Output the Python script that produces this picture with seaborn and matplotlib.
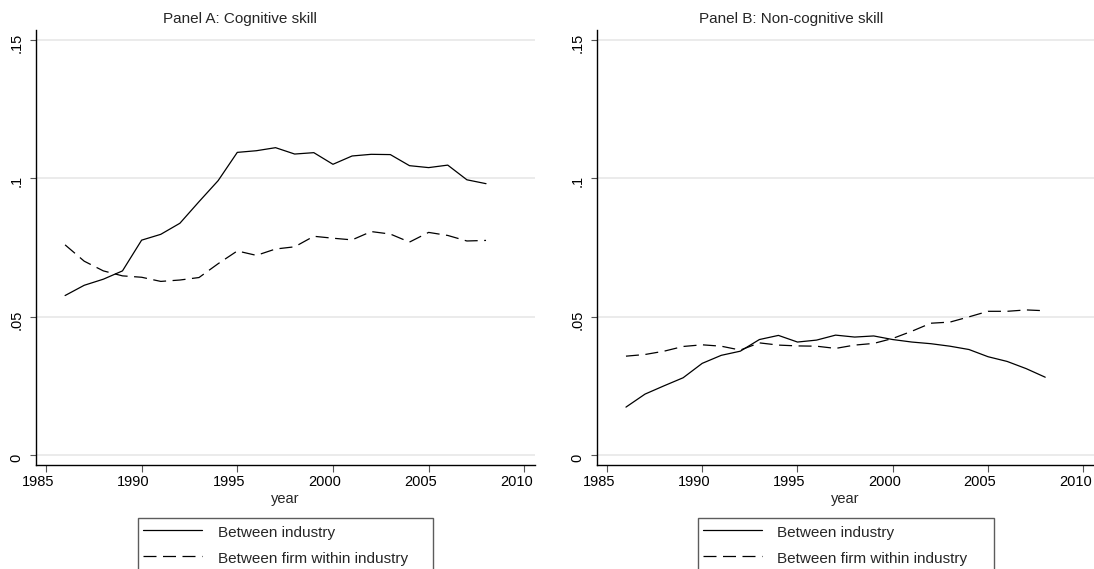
import matplotlib
matplotlib.use("Agg")
import matplotlib.pyplot as plt
from matplotlib.transforms import ScaledTranslation
import numpy as np
import pandas as pd
import seaborn as sns

# ---- data -------------------------------------------------------------
years = [1986, 1987, 1988, 1989, 1990, 1991, 1992, 1993, 1994, 1995, 1996, 1997,
         1998, 1999, 2000, 2001, 2002, 2003, 2004, 2005, 2006, 2007, 2008]

cog_between_industry = [0.0577, 0.0614, 0.0636, 0.0666, 0.0777, 0.0798, 0.0838, 0.0916,
                        0.0992, 0.1094, 0.1100, 0.1111, 0.1088, 0.1093, 0.1051, 0.1081,
                        0.1087, 0.1086, 0.1046, 0.1039, 0.1048, 0.0995, 0.0981]
cog_within_industry = [0.0760, 0.0701, 0.0666, 0.0648, 0.0643, 0.0628, 0.0633, 0.0642,
                       0.0692, 0.0738, 0.0722, 0.0745, 0.0753, 0.0791, 0.0784, 0.0778,
                       0.0808, 0.0799, 0.0770, 0.0805, 0.0794, 0.0774, 0.0776]

noncog_between_industry = [0.0174, 0.0221, 0.0251, 0.0280, 0.0332, 0.0361, 0.0376, 0.0418,
                           0.0433, 0.0409, 0.0416, 0.0434, 0.0427, 0.0431, 0.0418, 0.0409,
                           0.0403, 0.0394, 0.0382, 0.0356, 0.0339, 0.0313, 0.0282]
noncog_within_industry = [0.0358, 0.0364, 0.0376, 0.0393, 0.0399, 0.0394, 0.0380, 0.0406,
                          0.0398, 0.0395, 0.0394, 0.0386, 0.0398, 0.0404, 0.0422, 0.0448,
                          0.0477, 0.0481, 0.0500, 0.0520, 0.0520, 0.0525, 0.0522]

series_names = ["Between industry", "Between firm within industry"]
panel_titles = ["Panel A: Cognitive skill", "Panel B: Non-cognitive skill"]

x_ticks = [1985, 1990, 1995, 2000, 2005, 2010]
y_ticks = [0.0, 0.05, 0.10, 0.15]
y_tick_labels = ["0", ".05", ".1", ".15"]

# ---- long-form frames -------------------------------------------------
def long_frame(between, within):
    return pd.DataFrame({
        "year": years * 2,
        "share": between + within,
        "component": [series_names[0]] * len(years) + [series_names[1]] * len(years),
    })

frames = [long_frame(cog_between_industry, cog_within_industry),
          long_frame(noncog_between_industry, noncog_within_industry)]

# ---- style ------------------------------------------------------------
sns.set_style("white")
plt.rcParams["font.family"] = ["Liberation Sans", "DejaVu Sans"]

W, H = 1094, 569
DPI = 100
fig = plt.figure(figsize=(W / DPI, H / DPI), dpi=DPI)

# axes boxes in pixels: (left, right)
panel_px = [(36, 535), (597, 1094)]
ax_top_px, ax_bottom_px = 30, 464.7
title_center_px = [240, 791]
legend_px = [(138.3, 295), (697.5, 296)]
legend_top_px = 518.3

dash_style = {series_names[0]: "", series_names[1]: (10.4, 5.2)}

axes = []
for i, df in enumerate(frames):
    left, right = panel_px[i]
    ax = fig.add_axes([left / W, 1 - ax_bottom_px / H,
                       (right - left) / W, (ax_bottom_px - ax_top_px) / H])
    axes.append(ax)
    sns.lineplot(data=df, x="year", y="share", style="component",
                 dashes=dash_style, color="black", linewidth=0.9,
                 legend=False, ax=ax)

    ax.set_xlim(1984.48, 2010.56)
    ax.set_ylim(-0.0034, 0.1536)
    ax.set_xticks(x_ticks)
    ax.set_xticklabels([str(t) for t in x_ticks])
    ax.set_yticks(y_ticks)
    ax.set_yticklabels(y_tick_labels)

    ax.yaxis.grid(True, color="#e6e6e6", linewidth=1.1)
    ax.xaxis.grid(False)
    ax.set_axisbelow(True)

    for side in ("top", "right"):
        ax.spines[side].set_visible(False)
    for side in ("left", "bottom"):
        ax.spines[side].set_color("black")
        ax.spines[side].set_linewidth(1.0)

    ax.tick_params(axis="both", which="major", direction="out", bottom=True,
                   left=True, width=0.8, color="#555555", labelsize=10.5,
                   labelcolor="black")
    ax.tick_params(axis="x", length=5, pad=2.5)
    ax.tick_params(axis="y", length=4.5, pad=4.5, labelrotation=90)

    ax.set_xlabel("year", fontsize=10.5, labelpad=2)
    ax.set_ylabel("")

    ax.set_title(panel_titles[i], fontsize=11,
                 x=(title_center_px[i] - left) / (right - left), pad=5.3)

    lx, lw = legend_px[i]
    leg = ax.legend(ax.get_lines()[:2], series_names,
                    loc="upper left",
                    bbox_to_anchor=(lx / W, 1 - legend_top_px / H, lw / W, 0),
                    bbox_transform=fig.transFigure, mode="expand",
                    borderaxespad=0, frameon=True, fancybox=False,
                    handlelength=3.86, handleheight=1.3, handletextpad=1.0,
                    borderpad=0.33, labelspacing=0.6, fontsize=11)
    leg.get_frame().set_edgecolor("#333333")
    leg.get_frame().set_linewidth(1.0)

# year labels sit slightly left of their ticks; value labels slightly low
x_shift = ScaledTranslation(-8 / DPI, 0, fig.dpi_scale_trans)
y_shift = ScaledTranslation(0, -3 / DPI, fig.dpi_scale_trans)
for ax in axes:
    for lab in ax.get_xticklabels():
        lab.set_transform(lab.get_transform() + x_shift)
    for lab in ax.get_yticklabels():
        lab.set_verticalalignment("center")
        lab.set_transform(lab.get_transform() + y_shift)

fig.savefig("out.png", dpi=DPI)
